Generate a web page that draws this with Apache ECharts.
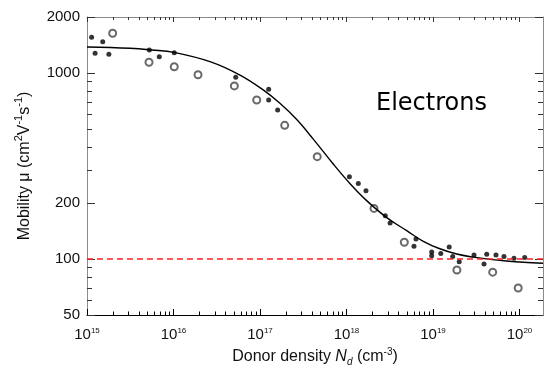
<!DOCTYPE html>
<html>
<head>
<meta charset="utf-8">
<script src="https://cdn.jsdelivr.net/npm/echarts@6/dist/echarts.min.js"></script>
<style>
  html, body { margin: 0; padding: 0; background: #fff; }
  #main { width: 544px; height: 372px; }
</style>
</head>
<body>
<div id="main"></div>
<script>
// fit curve (donor density, mobility)
const fitN  = [1e15, 3.14e15, 5.63e15, 1.01e16, 2.64e16, 5.87e16, 1.09e17, 1.70e17, 2.66e17, 4.13e17,
               7.03e17, 1.10e18, 1.71e18, 2.92e18, 4.97e18, 7.73e18, 1.20e19, 1.88e19, 2.93e19, 4.56e19,
               7.11e19, 1.11e20, 1.87e20];
const fitMu = [1380, 1358, 1330, 1291, 1151, 975, 811, 687, 562, 441,
               324, 254, 206, 167, 142, 124.5, 113.5, 106.4, 102.3, 99.5,
               97.5, 96, 94.8];

// filled dots
const filledN  = [1.13e15, 1.24e15, 1.52e15, 1.79e15, 5.25e15, 6.85e15, 1.02e16, 5.24e16, 1.26e17, 1.26e17,
                  1.60e17, 1.08e18, 1.37e18, 1.68e18, 2.81e18, 3.19e18, 6.36e18, 6.03e18, 9.66e18, 9.66e18,
                  1.23e19, 1.54e19, 1.69e19, 2.01e19, 2.98e19, 3.89e19, 4.18e19, 5.35e19, 6.62e19, 8.64e19,
                  1.15e20];
const filledMu = [1556, 1276, 1473, 1261, 1330, 1224, 1286, 948, 817, 716,
                  633, 277, 255, 233, 171, 156, 128, 117, 109, 104,
                  107, 116, 103, 96.8, 105, 94, 106, 105, 103, 101,
                  102];

// open circles
const openN  = [1.98e15, 5.21e15, 1.02e16, 1.92e16, 5.05e16, 9.16e16, 1.93e17, 4.59e17, 2.08e18, 4.66e18,
                1.89e19, 4.90e19, 9.66e19];
const openMu = [1636, 1142, 1081, 979, 852, 716, 523, 355, 187, 123,
                87.3, 85, 69.8];

const refLine = 100;

// axis ticks and labels
const xMajor = [1e15, 1e16, 1e17, 1e18, 1e19, 1e20];
const xMinor = [];
xMajor.forEach(d => { for (let k = 2; k <= 9; k++) if (d * k < 1.87e20) xMinor.push(d * k); });
const yLabels = [50, 100, 200, 1000, 2000];
const yMinor = [60, 70, 80, 90, 300, 400, 500, 600, 700, 800, 900];

const pairs = (a, b) => a.map((v, i) => [v, b[i]]);

const chart = echarts.init(document.getElementById('main'));

const xBase = { type: 'log', min: 1e15, max: 1.87e20, splitLine: { show: false }, gridIndex: 0 };
const yBase = { type: 'log', min: 50, max: 2000, splitLine: { show: false }, gridIndex: 0 };
const gray = '#8c8c8c';
const font = 'Liberation Sans';

const option = {
  animation: false,
  grid: { left: 87, right: 1, top: 17, bottom: 57 },
  xAxis: [
    Object.assign({}, xBase, {
      position: 'bottom',
      axisLine: { show: true, lineStyle: { color: '#000', width: 1.2 } },
      axisTick: { show: true, inside: true, length: 6, customValues: xMajor, lineStyle: { color: '#000' } },
      axisLabel: {
        show: true, customValues: xMajor, margin: 12,
        color: '#111', fontSize: 15, fontFamily: font,
        formatter: v => '10{s|' + Math.round(Math.log10(v)) + '}',
        rich: { s: { fontSize: 8, verticalAlign: 'top', fontFamily: font, color: '#111' } }
      },
      name: 'Donor density {i|N}{d|d} (cm{s|-3})',
      nameLocation: 'middle', nameGap: 32,
      nameTextStyle: {
        fontSize: 16, color: '#111', fontFamily: font, lineHeight: 20,
        rich: {
          i: { fontSize: 16, fontStyle: 'italic', fontFamily: font, color: '#111' },
          d: { fontSize: 10, fontStyle: 'italic', verticalAlign: 'bottom', lineHeight: 10, fontFamily: font, color: '#111' },
          s: { fontSize: 10, verticalAlign: 'top', lineHeight: 10, fontFamily: font, color: '#111' }
        }
      }
    }),
    Object.assign({}, xBase, {
      position: 'bottom',
      axisLine: { show: false },
      axisTick: { show: true, inside: true, length: 3.5, customValues: xMinor, lineStyle: { color: '#000' } },
      axisLabel: { show: false }
    }),
    Object.assign({}, xBase, {
      position: 'top',
      axisLine: { show: true, lineStyle: { color: gray } },
      axisTick: { show: true, inside: true, length: 5, customValues: xMajor, lineStyle: { color: '#333' } },
      axisLabel: { show: false }
    }),
    Object.assign({}, xBase, {
      position: 'top',
      axisLine: { show: false },
      axisTick: { show: true, inside: true, length: 3, customValues: xMinor, lineStyle: { color: '#333' } },
      axisLabel: { show: false }
    })
  ],
  yAxis: [
    Object.assign({}, yBase, {
      position: 'left',
      axisLine: { show: true, lineStyle: { color: gray } },
      axisTick: { show: true, inside: true, length: 8, customValues: yLabels, lineStyle: { color: '#333' } },
      axisLabel: {
        show: true, customValues: yLabels, margin: 7,
        color: '#111', fontSize: 15, fontFamily: font,
        formatter: v => String(v)
      },
      name: 'Mobility μ (cm{s|2}V{s|-1}s{s|-1})',
      nameLocation: 'middle', nameGap: 48, nameRotate: 90,
      nameTextStyle: {
        fontSize: 16, color: '#111', fontFamily: font, lineHeight: 22,
        padding: [0, 0, 0, 0],
        rich: { s: { fontSize: 11, verticalAlign: 'top', lineHeight: 11, fontFamily: font, color: '#111' } }
      }
    }),
    Object.assign({}, yBase, {
      position: 'left',
      axisLine: { show: false },
      axisTick: { show: true, inside: true, length: 5, customValues: yMinor, lineStyle: { color: '#333' } },
      axisLabel: { show: false }
    }),
    Object.assign({}, yBase, {
      position: 'right',
      axisLine: { show: true, lineStyle: { color: gray } },
      axisTick: { show: true, inside: true, length: 8, customValues: yLabels, lineStyle: { color: '#333' } },
      axisLabel: { show: false }
    }),
    Object.assign({}, yBase, {
      position: 'right',
      axisLine: { show: false },
      axisTick: { show: true, inside: true, length: 5, customValues: yMinor, lineStyle: { color: '#333' } },
      axisLabel: { show: false }
    })
  ],
  graphic: [{
    type: 'text',
    style: { text: 'Electrons', x: 376, y: 104, verticalAlign: 'middle', font: '24px "DejaVu Sans"', fill: '#000' }
  }],
  series: [
    {
      name: 'fit',
      type: 'line',
      smooth: 0.4,
      showSymbol: false,
      xAxisIndex: 0, yAxisIndex: 0,
      data: pairs(fitN, fitMu),
      lineStyle: { color: '#000', width: 1.4 },
      markLine: {
        silent: true,
        symbol: ['none', 'none'],
        label: { show: false },
        lineStyle: { color: '#ff2020', type: [6, 4], width: 1.5 },
        data: [{ yAxis: refLine }]
      }
    },
    {
      name: 'filled',
      type: 'scatter',
      xAxisIndex: 0, yAxisIndex: 0,
      symbol: 'circle',
      symbolSize: 5,
      itemStyle: { color: '#000' },
      data: pairs(filledN, filledMu)
    },
    {
      name: 'open',
      type: 'scatter',
      xAxisIndex: 0, yAxisIndex: 0,
      symbol: 'emptyCircle',
      symbolSize: 7,
      itemStyle: { color: '#444', borderColor: '#444', borderWidth: 0.8 },
      data: pairs(openN, openMu)
    }
  ]
};

chart.setOption(option);
</script>
</body>
</html>
